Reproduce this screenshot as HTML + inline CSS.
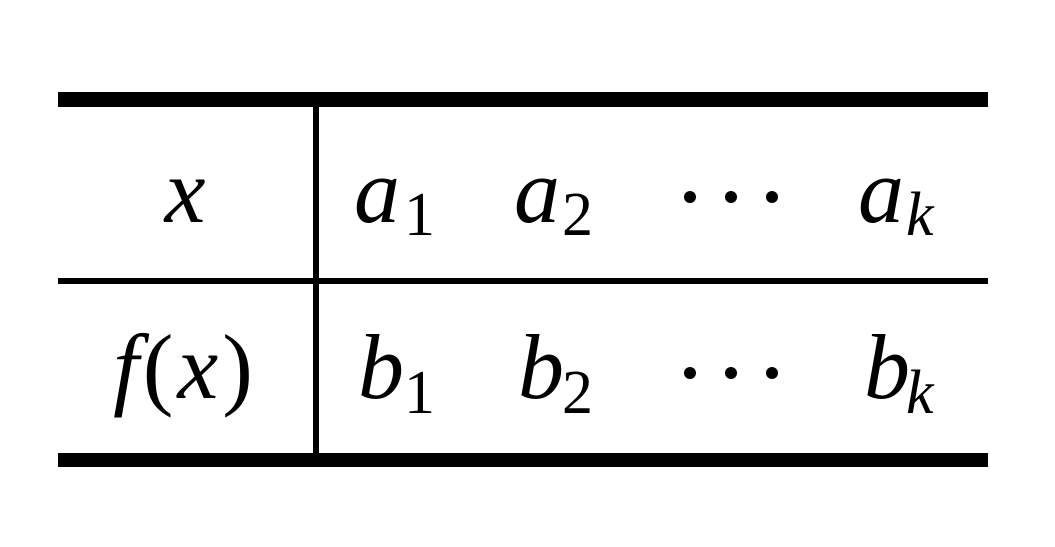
<!DOCTYPE html>
<html><head><style>
html,body{margin:0;padding:0;background:#fff;}
svg{display:block;}
text{font-family:"Liberation Serif","DejaVu Serif",serif;fill:#000;}
.i{font-style:italic;}
.n{font-style:normal;}
</style></head><body>
<svg width="1055" height="547" viewBox="0 0 1055 547" xmlns="http://www.w3.org/2000/svg">
<rect x="58" y="92" width="930" height="15" fill="#000"/>
<rect x="58" y="278" width="930" height="6" fill="#000"/>
<rect x="58" y="453" width="930" height="14" fill="#000"/>
<rect x="313" y="107" width="6" height="346" fill="#000"/>

<text class="i" x="185" y="222" font-size="92" text-anchor="middle">x</text>
<text class="i" x="185" y="398" font-size="92" text-anchor="middle" letter-spacing="4">f<tspan class="n">(</tspan>x<tspan class="n">)</tspan></text>

<text class="i" x="354" y="222" font-size="92">a</text>
<text class="n" x="404" y="235" font-size="62">1</text>
<text class="i" x="514" y="222" font-size="92">a</text>
<text class="n" x="562" y="235" font-size="62">2</text>
<text class="i" x="858" y="222" font-size="92">a</text>
<text class="i" x="906" y="235" font-size="62">k</text>

<text class="i" x="358" y="398" font-size="92">b</text>
<text class="n" x="404" y="413" font-size="62">1</text>
<text class="i" x="518" y="398" font-size="92">b</text>
<text class="n" x="562" y="413" font-size="62">2</text>
<text class="i" x="864" y="398" font-size="92">b</text>
<text class="i" x="906" y="413" font-size="62">k</text>

<g fill="#000">
<circle cx="690" cy="197" r="6"/><circle cx="731" cy="197" r="6"/><circle cx="772" cy="197" r="6"/>
<circle cx="690" cy="373" r="6"/><circle cx="731" cy="373" r="6"/><circle cx="772" cy="373" r="6"/>
</g>
</svg>
</body></html>
